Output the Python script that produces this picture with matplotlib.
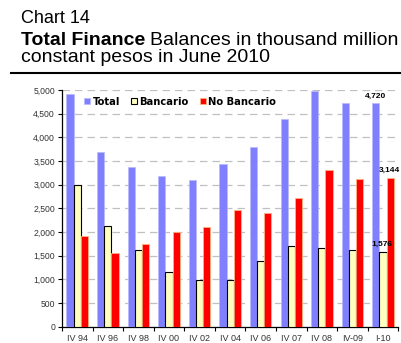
import numpy as np
import matplotlib.pyplot as plt
from matplotlib.ticker import FuncFormatter, FixedLocator
from matplotlib.lines import Line2D

plt.rcParams['font.family'] = ['Liberation Sans', 'DejaVu Sans']

# Data (thousand million constant pesos, June 2010)
periods = ["IV 94", "IV 96", "IV 98", "IV 00", "IV 02", "IV 04",
           "IV 06", "IV 07", "IV 08", "IV-09", "I-10"]
total = [4910, 3680, 3370, 3180, 3100, 3430, 3790, 4390, 4970, 4725, 4720]
bancario = [2990, 2130, 1620, 1155, 980, 980, 1380, 1700, 1670, 1620, 1576]
no_bancario = [1910, 1550, 1745, 2005, 2110, 2455, 2395, 2710, 3300, 3110, 3144]

c_total = "#8080FF"
c_banc = "#FFFFC0"
c_nobanc = "#FF0000"

fig = plt.figure(figsize=(4.02, 3.43), dpi=100)

# Header text
fig.text(0.052, 0.933, "Chart 14", fontsize=13, ha="left", va="baseline")
t1 = fig.text(0.052, 0.870, "Total Finance", fontsize=14, fontweight="bold",
              ha="left", va="baseline")
fig.canvas.draw()
bb = t1.get_window_extent()
fig.text(bb.x1 / fig.bbox.width + 0.012, 0.870, "Balances in thousand million",
         fontsize=14, ha="left", va="baseline")
fig.text(0.052, 0.820, "constant pesos in June 2010", fontsize=14,
         ha="left", va="baseline")
fig.add_artist(Line2D([0.027, 0.995], [0.786, 0.786], color="black", lw=1.5,
                      transform=fig.transFigure))

ax = fig.add_axes([0.1542, 0.0475, 0.8366, 0.6901])

x = np.arange(len(periods))
w = 0.235
ax.bar(x - w, total, w, color=c_total, edgecolor="#B8B8FF", linewidth=0.5,
       label="Total", zorder=3)
ax.bar(x, bancario, w, color=c_banc, edgecolor="black", linewidth=0.8,
       label="Bancario", zorder=3)
ax.bar(x + w, no_bancario, w, color=c_nobanc, edgecolor="#FFB080",
       linewidth=0.6, label="No Bancario", zorder=3)

# Value labels for the latest period
last = len(periods) - 1
lab_kw = dict(fontsize=6, fontweight="bold", ha="center", va="baseline",
              clip_on=False, zorder=5)
ax.text(x[last] - w, total[last] + 120, f"{total[last]:,}", **lab_kw)
ax.text(x[last] - 0.05, bancario[last] + 140, f"{bancario[last]:,}", **lab_kw)
ax.text(x[last] + w - 0.03, no_bancario[last] + 120, f"{no_bancario[last]:,}",
        **lab_kw)

ax.set_xlim(-0.5, len(periods) - 0.5)
ax.set_ylim(0, 5000)
ax.set_yticks(np.arange(0, 5001, 500))
ax.yaxis.set_major_formatter(FuncFormatter(lambda v, p: f"{int(v):,}"))
ax.yaxis.grid(True, color="#C0C0C0", linestyle=(0, (6, 4)), linewidth=0.9,
              zorder=0)

ax.set_xticks(x)
ax.set_xticklabels(periods)
ax.xaxis.set_minor_locator(FixedLocator(np.arange(-0.5, len(periods), 1.0)))
ax.tick_params(axis="x", which="major", length=0, labelsize=6.5,
               labelcolor="#333333", pad=5)
ax.tick_params(axis="x", which="minor", length=3, width=0.8)
ax.tick_params(axis="y", length=3, width=0.8, labelsize=6.2,
               labelcolor="#333333", pad=2)

for s in ("top", "right"):
    ax.spines[s].set_visible(False)
for s in ("left", "bottom"):
    ax.spines[s].set_linewidth(0.9)

ax.legend(loc="center left", bbox_to_anchor=(0.066, 0.95), ncol=3,
          frameon=False, prop={"family": "DejaVu Sans", "weight": "bold",
                               "size": 7.2},
          handlelength=0.6, handleheight=0.6, handletextpad=0.25,
          columnspacing=1.1, borderaxespad=0, borderpad=0)

fig.savefig("out.png", dpi=100)
